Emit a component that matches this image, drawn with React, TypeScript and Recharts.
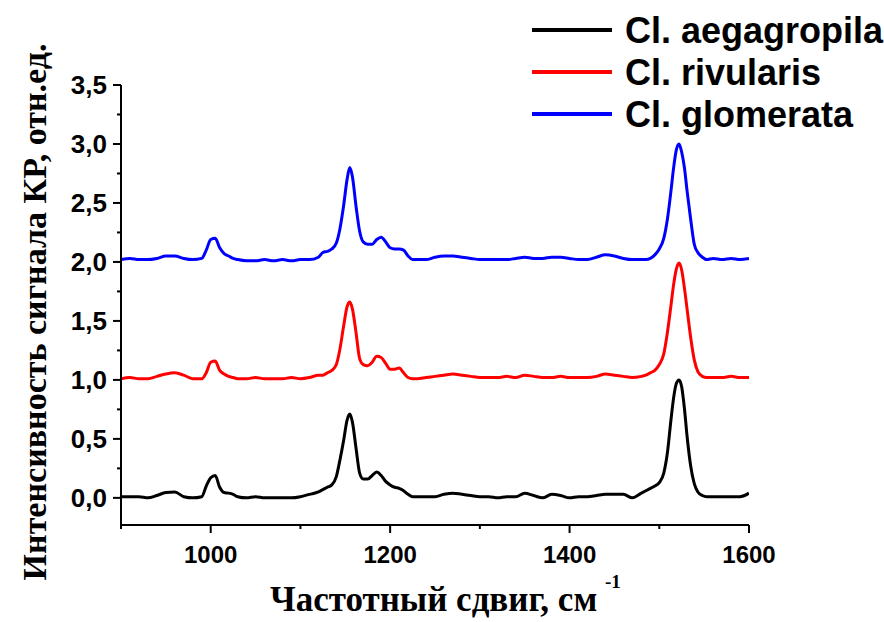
import { LineChart, Line, XAxis, YAxis } from "recharts";

// Raman shift, cm-1 (denser near the peaks)
const shifts = [
  900, 910, 920, 930, 940, 950, 960, 970, 980, 990,
  995, 1000, 1005, 1010, 1015, 1020, 1025, 1030,
  1040, 1050, 1060, 1070, 1080, 1090, 1100, 1110, 1120,
  1125, 1130, 1135, 1140, 1144, 1148, 1152, 1155, 1158, 1162, 1166, 1170,
  1175, 1180, 1185, 1190, 1195, 1200, 1205, 1210, 1215, 1220, 1225, 1230,
  1240, 1250, 1260, 1270, 1280, 1290, 1300, 1310, 1320, 1330, 1340, 1350,
  1360, 1370, 1380, 1390, 1400, 1410, 1420, 1430, 1440, 1450, 1460, 1470, 1480,
  1485, 1490, 1495, 1500, 1505, 1509, 1513, 1516, 1519, 1522, 1525, 1528, 1531,
  1535, 1539, 1543, 1548, 1553, 1560,
  1570, 1580, 1590, 1600,
];

const aegagropila = [
  0.01, 0.01, 0.01, 0.0, 0.02, 0.045, 0.05, 0.01, 0.0, 0.01,
  0.1, 0.17, 0.19, 0.09, 0.045, 0.04, 0.03, 0.01,
  0.0, 0.01, 0.0, 0.0, 0.0, 0.0, 0.01, 0.03, 0.05,
  0.07, 0.09, 0.11, 0.18, 0.32, 0.48, 0.66, 0.71, 0.64, 0.42, 0.21, 0.16,
  0.16, 0.19, 0.22, 0.19, 0.14, 0.11, 0.09, 0.08, 0.06, 0.03, 0.01, 0.01,
  0.01, 0.01, 0.03, 0.04, 0.03, 0.02, 0.01, 0.01, 0.0, 0.01, 0.01, 0.04,
  0.02, 0.0, 0.03, 0.02, 0.0, 0.01, 0.01, 0.02, 0.03, 0.03, 0.03, 0.0, 0.04,
  0.06, 0.08, 0.1, 0.13, 0.21, 0.38, 0.66, 0.85, 0.97, 1.0, 0.94, 0.76, 0.52,
  0.27, 0.12, 0.05, 0.02, 0.01, 0.01,
  0.01, 0.01, 0.01, 0.04,
];

const rivularis = [
  1.01, 1.02, 1.01, 1.01, 1.03, 1.05, 1.06, 1.04, 1.01, 1.01,
  1.06, 1.15, 1.16, 1.08, 1.05, 1.03, 1.02, 1.01,
  1.01, 1.02, 1.01, 1.01, 1.01, 1.02, 1.01, 1.02, 1.04,
  1.04, 1.06, 1.08, 1.13, 1.26, 1.45, 1.62, 1.66, 1.6, 1.4, 1.18, 1.13,
  1.12, 1.15, 1.2, 1.19, 1.14, 1.09, 1.09, 1.1, 1.06, 1.02, 1.01, 1.01,
  1.02, 1.03, 1.04, 1.05, 1.04, 1.03, 1.02, 1.02, 1.02, 1.03, 1.02, 1.04,
  1.03, 1.02, 1.02, 1.03, 1.02, 1.02, 1.02, 1.03, 1.05, 1.04, 1.03, 1.02, 1.03,
  1.04, 1.06, 1.08, 1.13, 1.22, 1.4, 1.63, 1.81, 1.94, 1.99, 1.93, 1.78, 1.6,
  1.36, 1.17, 1.07, 1.03, 1.02, 1.02,
  1.02, 1.03, 1.02, 1.02,
];

const glomerata = [
  2.02, 2.03, 2.02, 2.02, 2.03, 2.05, 2.05, 2.03, 2.02, 2.03,
  2.1, 2.19, 2.2, 2.12, 2.07, 2.05, 2.03, 2.02,
  2.01, 2.01, 2.02, 2.01, 2.02, 2.01, 2.02, 2.02, 2.04,
  2.08, 2.09, 2.11, 2.16, 2.28, 2.47, 2.7, 2.8, 2.72, 2.47, 2.26, 2.17,
  2.15, 2.15, 2.19, 2.21, 2.17, 2.12, 2.11, 2.11, 2.1, 2.05, 2.02, 2.02,
  2.02, 2.04, 2.05, 2.05, 2.04, 2.03, 2.02, 2.02, 2.02, 2.02, 2.03, 2.04,
  2.03, 2.03, 2.04, 2.04, 2.03, 2.02, 2.02, 2.04, 2.06, 2.05, 2.03, 2.02, 2.02,
  2.02, 2.03, 2.06, 2.11, 2.2, 2.36, 2.6, 2.8, 2.95, 3.0, 2.93, 2.8, 2.6,
  2.36, 2.15, 2.08, 2.04, 2.02, 2.03,
  2.02, 2.03, 2.02, 2.03,
];

const xTicks = [900, 1000, 1100, 1200, 1300, 1400, 1500, 1600];
const xLabeled = [1000, 1200, 1400, 1600];
const yTicks = [0, 0.25, 0.5, 0.75, 1, 1.25, 1.5, 1.75, 2, 2.25, 2.5, 2.75, 3, 3.25, 3.5];

const seriesKeys = ["aeg", "riv", "glo"];
const seriesNames = ["Cl. aegagropila", "Cl. rivularis", "Cl. glomerata"];
const seriesColors = ["#000000", "#ff0000", "#0000ff"];

const data = shifts.map((s, i) => ({
  shift: s,
  aeg: aegagropila[i],
  riv: rivularis[i],
  glo: glomerata[i],
}));

const SANS = "'Liberation Sans', Arial, sans-serif";
const SERIF = "'Liberation Serif', 'Times New Roman', serif";

function YTick(props: any) {
  const { x, y, payload } = props;
  const v = payload.value as number;
  const major = Math.abs(v * 2 - Math.round(v * 2)) < 1e-6;
  return (
    <g>
      <line x1={x - (major ? 8 : 4)} x2={x} y1={y} y2={y} stroke="#000" strokeWidth={2} />
      {major && (
        <text x={x - 14} y={y} textAnchor="end" dominantBaseline="central"
          fontFamily={SANS} fontWeight="bold" fontSize={26} fill="#000">
          {v.toFixed(1).replace(".", ",")}
        </text>
      )}
    </g>
  );
}

function XTick(props: any) {
  const { x, y, payload } = props;
  const v = payload.value as number;
  const major = xLabeled.includes(v);
  return (
    <g>
      <line x1={x} x2={x} y1={y} y2={y + (major ? 8 : 4)} stroke="#000" strokeWidth={2} />
      {major && (
        <text x={x} y={y + 38} textAnchor="middle"
          fontFamily={SANS} fontWeight="bold" fontSize={24} fill="#000">
          {v}
        </text>
      )}
    </g>
  );
}

export default function App() {
  return (
    <div style={{ position: "absolute", left: 0, top: 0, width: 884, height: 622, overflow: "hidden", background: "#fff" }}>
      <LineChart width={884} height={622} data={data}
        margin={{ top: 85, right: 135, left: 51, bottom: 57 }}>
        <XAxis
          dataKey="shift"
          type="number"
          domain={[900, 1600]}
          ticks={xTicks}
          interval={0}
          tick={<XTick />}
          tickLine={false}
          tickSize={0}
          tickMargin={0}
          axisLine={{ stroke: "#000", strokeWidth: 2 }}
          height={40}
          allowDataOverflow
        />
        <YAxis
          type="number"
          domain={[-0.23, 3.5]}
          ticks={yTicks}
          interval={0}
          tick={<YTick />}
          tickLine={false}
          tickSize={0}
          tickMargin={0}
          axisLine={{ stroke: "#000", strokeWidth: 2 }}
          width={70}
          allowDataOverflow
        />
        {seriesKeys.map((k, i) => (
          <Line key={k} type="monotone" dataKey={k} stroke={seriesColors[i]}
            strokeWidth={3} dot={false} activeDot={false} isAnimationActive={false} />
        ))}
      </LineChart>

      <svg width={884} height={622} style={{ position: "absolute", left: 0, top: 0, pointerEvents: "none" }}>
        {/* axis titles */}
        <text x={34} y={312} transform="rotate(-90 34 312)" textAnchor="middle" dominantBaseline="central"
          fontFamily={SERIF} fontWeight="bold" fontSize={34} fill="#000">
          Интенсивность сигнала КР, отн.ед.
        </text>
        <text x={270} y={611} fontFamily={SERIF} fontWeight="bold" fontSize={35} fill="#000">
          Частотный сдвиг, см
        </text>
        <text x={605} y={588} fontFamily={SERIF} fontWeight="bold" fontSize={19} fill="#000">
          -1
        </text>

        {/* legend */}
        {seriesNames.map((name, i) => (
          <g key={name}>
            <line x1={532} x2={612} y1={30 + i * 42} y2={30 + i * 42} stroke={seriesColors[i]} strokeWidth={4} />
            <text x={625} y={30 + i * 42} dominantBaseline="central"
              fontFamily={SANS} fontWeight="bold" fontSize={36} fill="#000">
              {name}
            </text>
          </g>
        ))}
      </svg>
    </div>
  );
}
